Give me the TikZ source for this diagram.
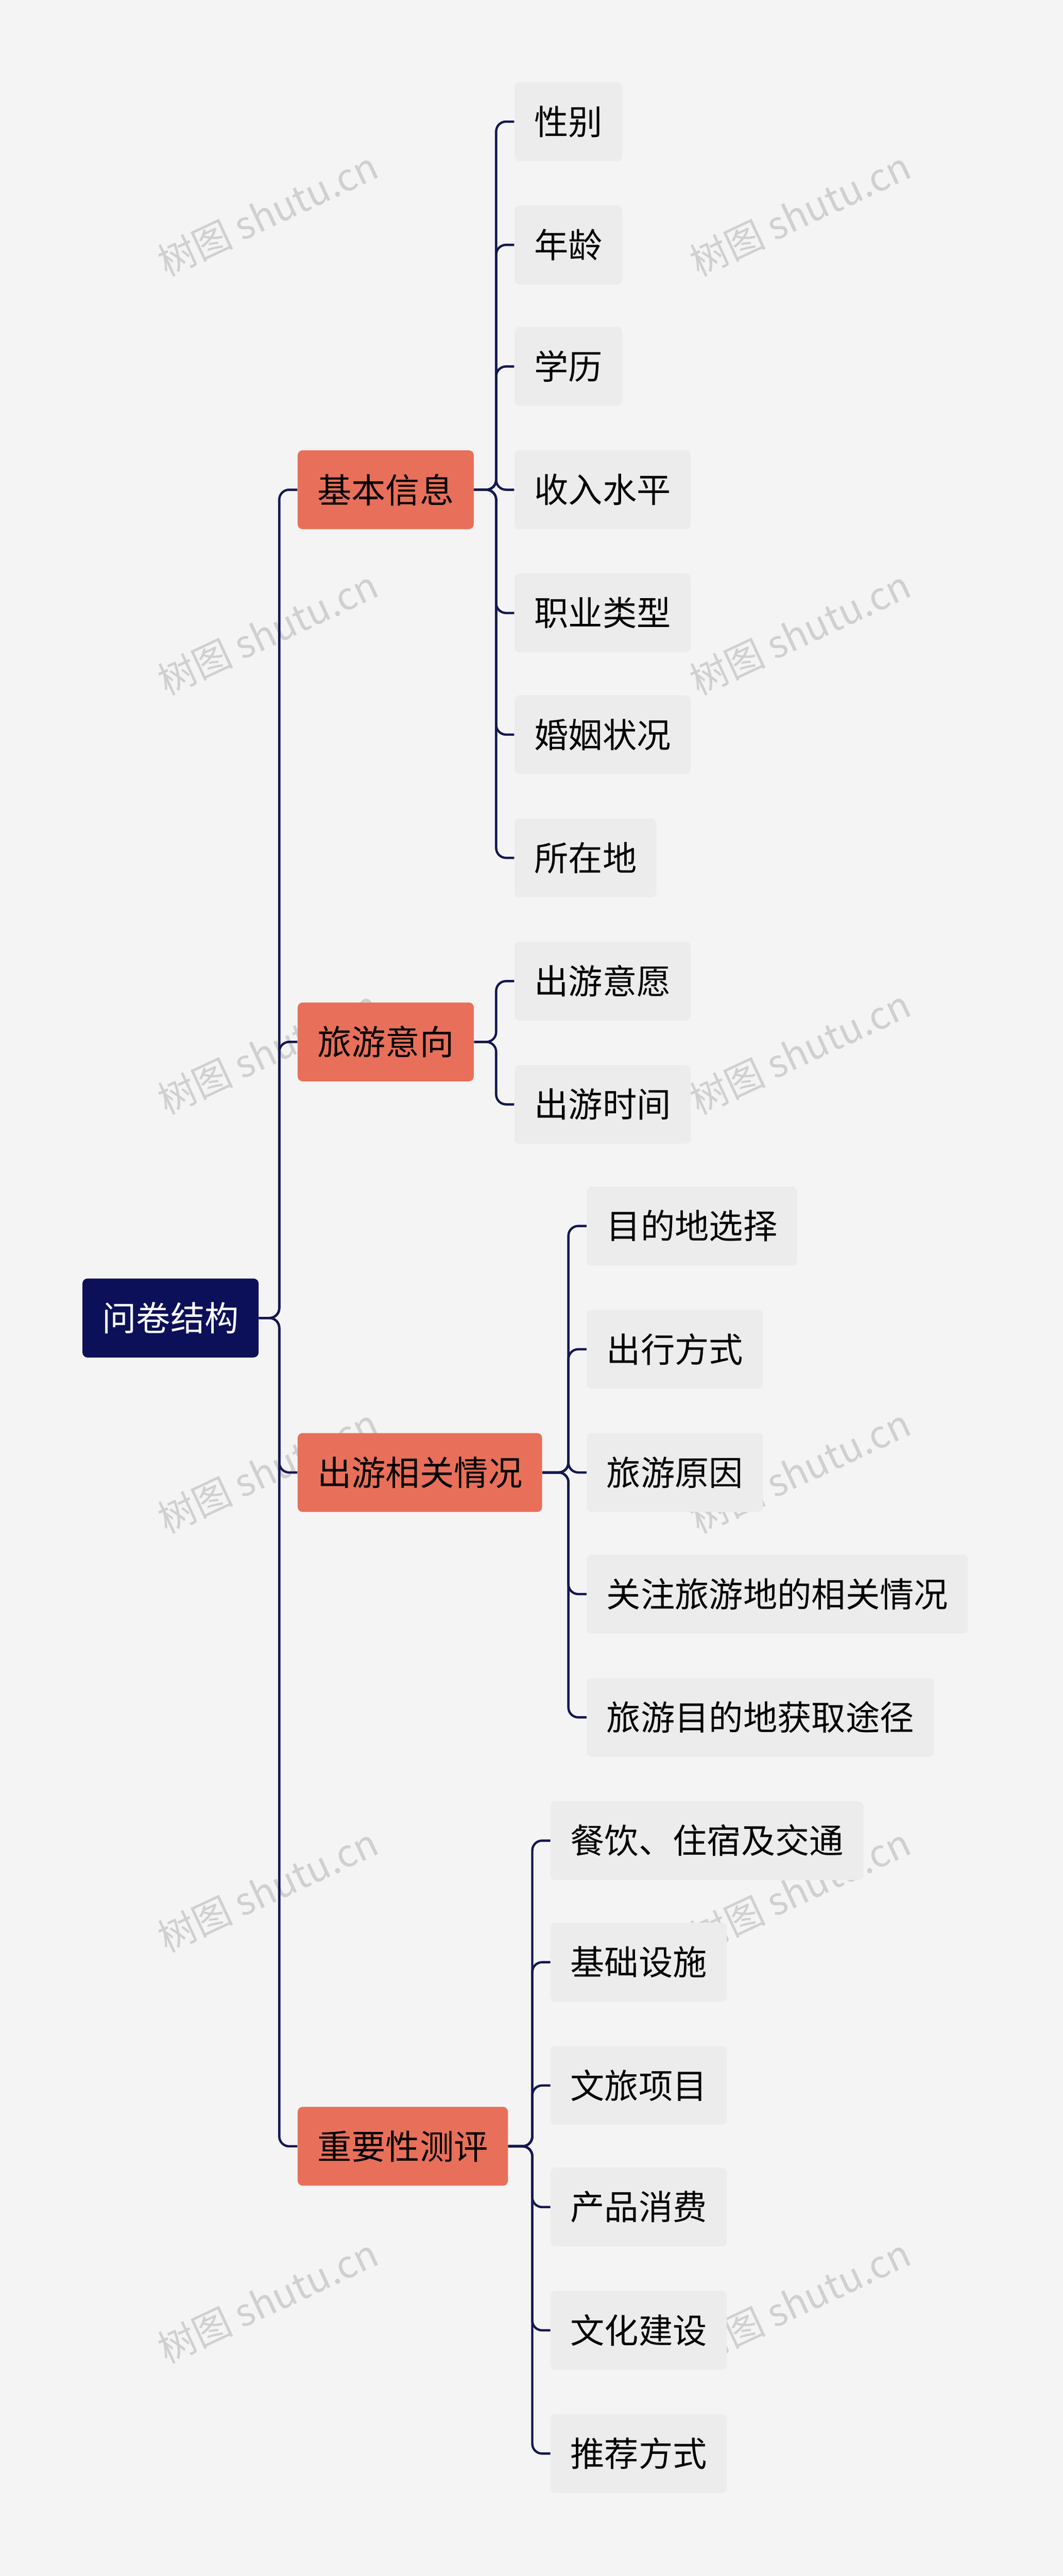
\documentclass[tikz,border=0pt]{standalone}
\usepackage{fontspec}
\setmainfont{Noto Sans CJK SC}
\begin{document}
\begin{tikzpicture}[x=1pt,y=-1pt,
  base/.style={rounded corners=3pt,minimum height=48pt,inner xsep=12pt,font=\fontsize{20.8}{23}\selectfont,anchor=west},
  rootbox/.style={base,fill={rgb,255:red,12;green,16;blue,88},text=white},
  lvone/.style={base,fill={rgb,255:red,232;green,112;blue,90},text=black},
  leaf/.style={base,fill={rgb,255:red,236;green,236;blue,236},text=black},
  conn/.style={draw={rgb,255:red,20;green,24;blue,80},line width=1.4pt,rounded corners=6pt},
  wm/.style={text={rgb,255:red,208;green,208;blue,208},font=\fontsize{23}{25}\selectfont,rotate=25}]
\fill[fill={rgb,255:red,244;green,244;blue,244}] (0,0) rectangle (647,1567.5);
\useasboundingbox (0,0) rectangle (647,1567.5);
\foreach \wy in {130,385,640,895,1150,1400}{
  \node[wm] at (163,\wy) {树图 shutu.cn};
  \node[wm] at (487,\wy) {树图 shutu.cn};}
\node[rootbox] (r) at (50,802) {问卷结构};
\node[lvone] (a) at (181,298) {基本信息};
\node[lvone] (b) at (181,634) {旅游意向};
\node[lvone] (c) at (181,896) {出游相关情况};
\node[lvone] (d) at (181,1306) {重要性测评};
\foreach \n/\t/\yy in {a1/性别/74,a2/年龄/149,a3/学历/223,a4/收入水平/298,a5/职业类型/373,a6/婚姻状况/447,a7/所在地/522}
  {\node[leaf] (\n) at (313,\yy) {\t}; \draw[conn] (a.east) -- (302,298) |- (\n.west);}
\foreach \n/\t/\yy in {b1/出游意愿/597,b2/出游时间/672}
  {\node[leaf] (\n) at (313,\yy) {\t}; \draw[conn] (b.east) -- (302,634) |- (\n.west);}
\foreach \n/\t/\yy in {c1/目的地选择/746,c2/出行方式/821,c3/旅游原因/896,c4/关注旅游地的相关情况/970,c5/旅游目的地获取途径/1045}
  {\node[leaf] (\n) at (357,\yy) {\t}; \draw[conn] (c.east) -- (346,896) |- (\n.west);}
\foreach \n/\t/\yy in {d1/餐饮、住宿及交通/1120,d2/基础设施/1194,d3/文旅项目/1269,d4/产品消费/1343,d5/文化建设/1418,d6/推荐方式/1493}
  {\node[leaf] (\n) at (335,\yy) {\t}; \draw[conn] (d.east) -- (324,1306) |- (\n.west);}
\foreach \n in {a,b,c,d}{\draw[conn] (r.east) -- (170,802) |- (\n.west);}
\end{tikzpicture}
\end{document}
